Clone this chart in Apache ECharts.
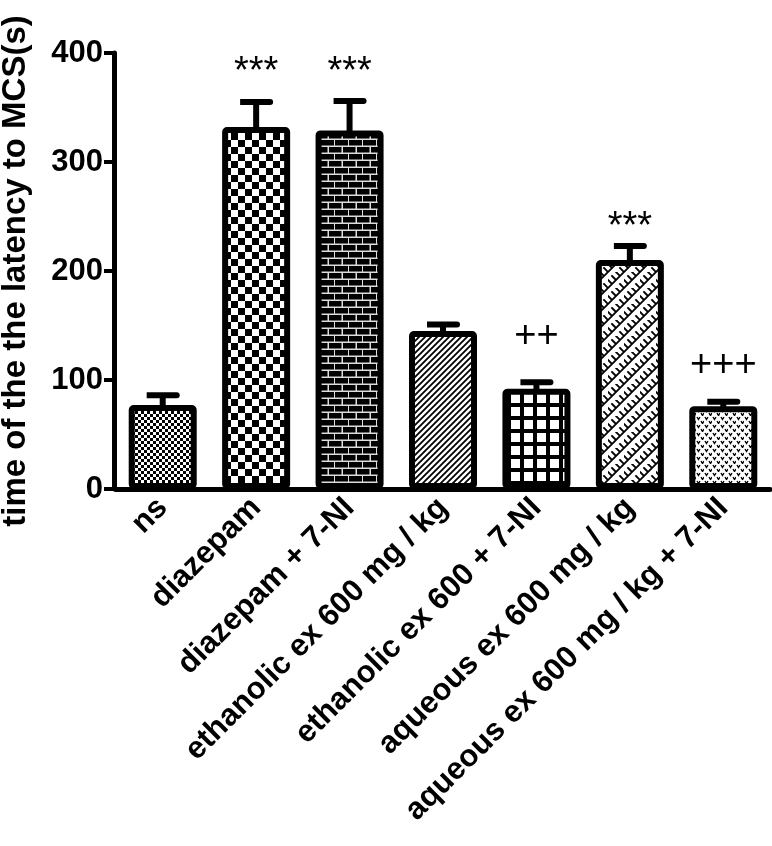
<!DOCTYPE html>
<html>
<head>
<meta charset="utf-8">
<script src="https://cdn.jsdelivr.net/npm/echarts@6/dist/echarts.min.js"></script>
<style>html,body{margin:0;padding:0;background:#fff;}#c{width:772px;height:846px;}</style>
</head>
<body>
<div id="c"></div>
<script>
const categories = ['ns', 'diazepam', 'diazepam + 7-NI', 'ethanolic ex 600 mg / kg', 'ethanolic ex 600 + 7-NI', 'aqueous ex 600 mg / kg', 'aqueous ex 600 mg / kg + 7-NI'];
const means = [77, 332, 329, 145, 92, 210, 76];
const sem = [9, 23, 27, 6, 6, 13, 4];
const marks = ['', '***', '***', '', '++', '***', '+++'];
const markY = [null, 382, 382, null, 140, 240, 113];
const yTicks = [0, 100, 200, 300, 400];

function tile(w, h, draw) {
  const c = document.createElement('canvas');
  c.width = w; c.height = h;
  const g = c.getContext('2d');
  g.fillStyle = '#fff'; g.fillRect(0, 0, w, h);
  g.fillStyle = '#000'; g.strokeStyle = '#000';
  draw(g, w, h);
  return { image: c, repeat: 'repeat' };
}
const patterns = [
  tile(6, 6, g => { g.fillRect(0, 0, 3, 3); g.fillRect(3, 3, 3, 3); }),
  tile(14, 14, g => { g.fillRect(0, 0, 7, 7); g.fillRect(7, 7, 7, 7); }),
  tile(14, 14, g => { g.fillStyle = '#ddd'; g.fillRect(0, 0, 14, 14); g.fillStyle = '#000';
    g.fillRect(0, 0, 12, 5.5); g.fillRect(13, 0, 1, 5.5);
    g.fillRect(0, 7, 5.5, 5.5); g.fillRect(7, 7, 7, 5.5); }),
  tile(6, 6, g => { g.lineWidth = 1.8; g.beginPath();
    g.moveTo(-1, 7); g.lineTo(7, -1); g.moveTo(-4, 4); g.lineTo(4, -4); g.moveTo(2, 10); g.lineTo(10, 2); g.stroke(); }),
  tile(13, 13, g => { g.fillRect(0, 0, 13, 4); g.fillRect(0, 0, 4, 13); }),
  tile(16, 16, g => { g.lineWidth = 1.8; g.lineCap = 'square'; g.beginPath();
    g.moveTo(-1, 17); g.lineTo(17, -1);
    g.moveTo(-9, 9); g.lineTo(9, -9);
    g.moveTo(7, 25); g.lineTo(25, 7);
    g.moveTo(4, 4); g.lineTo(8, 8);
    g.moveTo(12, 12); g.lineTo(16, 16);
    g.moveTo(-4, 12); g.lineTo(0, 16);
    g.moveTo(12, -4); g.lineTo(16, 0);
    g.moveTo(0, 8); g.lineTo(4, 12);
    g.moveTo(8, 0); g.lineTo(12, 4);
    g.stroke(); }),
  tile(8, 8, g => { g.lineWidth = 1.4; g.beginPath();
    g.moveTo(1, 1); g.lineTo(2.5, 3.5); g.lineTo(4, 1);
    g.moveTo(5, 5); g.lineTo(6.5, 7.5); g.lineTo(8, 5);
    g.stroke(); })
];

const FONT = 'Liberation Sans, Arial, sans-serif';
const chart = echarts.init(document.getElementById('c'), null, { renderer: 'canvas' });
chart.setOption({
  animation: false,
  backgroundColor: '#fff',
  grid: { left: 116, right: 2, top: 53, bottom: 357, containLabel: false, outerBoundsMode: 'none' },
  xAxis: {
    type: 'category', data: categories,
    axisLine: { lineStyle: { color: '#000', width: 5 } },
    axisTick: { alignWithLabel: true, length: 9, lineStyle: { color: '#000', width: 4 } },
    axisLabel: { rotate: 45, margin: 14, color: '#000', fontSize: 31, fontWeight: 'bold', fontFamily: FONT, interval: 0 }
  },
  yAxis: {
    type: 'value', min: yTicks[0], max: yTicks[yTicks.length - 1], interval: 100, offset: 2,
    name: 'time of the the latency to MCS(s)', nameLocation: 'middle', nameGap: 82, nameRotate: 90,
    nameTextStyle: { color: '#000', fontSize: 33, fontWeight: 'bold', fontFamily: FONT },
    axisLine: { show: true, lineStyle: { color: '#000', width: 5 } },
    axisTick: { show: true, length: 10, lineStyle: { color: '#000', width: 4 } },
    axisLabel: { margin: 11, color: '#000', fontSize: 31, fontWeight: 'bold', fontFamily: FONT },
    splitLine: { show: false }
  },
  series: [
    {
      type: 'bar', barWidth: 68,
      data: means.map((v, i) => ({ value: v, itemStyle: { color: patterns[i] } })),
      itemStyle: { borderColor: '#000', borderWidth: 6, borderRadius: 2 },
      z: 2
    },
    {
      type: 'custom', z: 3,
      data: means.map((v, i) => [i, v, v + sem[i]]),
      renderItem: function (params, api) {
        const base = api.coord([api.value(0), api.value(1)]);
        const top = api.coord([api.value(0), api.value(2)]);
        const x = base[0];
        return {
          type: 'group', children: [
            { type: 'line', shape: { x1: x, y1: base[1] + 3, x2: x, y2: top[1] }, style: { stroke: '#000', lineWidth: 6 } },
            { type: 'rect', shape: { x: x - 16, y: top[1] - 3, width: 33, height: 6, r: [0, 3, 3, 0] }, style: { fill: '#000' } }
          ]
        };
      }
    },
    {
      type: 'custom', z: 4,
      data: markY.map((v, i) => [i, v == null ? 0 : v, marks[i]]),
      renderItem: function (params, api) {
        const i = params.dataIndex;
        if (!marks[i]) return null;
        const p = api.coord([api.value(0), api.value(1)]);
        return { type: 'text', style: { x: p[0], y: p[1], text: marks[i], align: 'center', verticalAlign: 'middle',
          font: 'normal 38px ' + FONT, fill: '#000' } };
      }
    }
  ]
});
</script>
</body>
</html>
